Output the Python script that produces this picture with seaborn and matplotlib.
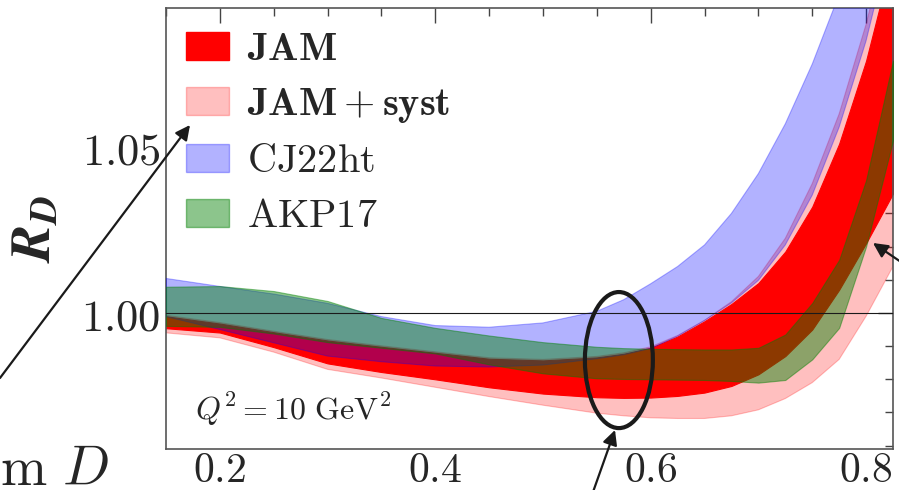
import numpy as np
import matplotlib
matplotlib.use("Agg")
import matplotlib.pyplot as plt
import seaborn as sns
from matplotlib.patches import Ellipse, Patch
from matplotlib.ticker import MultipleLocator, FuncFormatter

# ---------------- data ----------------
x = [0.15, 0.2, 0.25, 0.3, 0.35, 0.4, 0.45, 0.5, 0.55, 0.575, 0.6, 0.625, 0.65, 0.675,
     0.7, 0.725, 0.75, 0.775, 0.8, 0.825]

jam_lo = [0.9954, 0.9941, 0.9897, 0.9848, 0.9822, 0.9800, 0.9776, 0.9757, 0.9746, 0.9744,
          0.9745, 0.9750, 0.9760, 0.9780, 0.9815, 0.9870, 0.9950, 1.0070, 1.0210, 1.0360]
jam_hi = [0.9990, 0.9968, 0.9942, 0.9917, 0.9898, 0.9880, 0.9862, 0.9857, 0.9866, 0.9877,
          0.9895, 0.9929, 0.9975, 1.0027, 1.0090, 1.0185, 1.0320, 1.0510, 1.0760, 1.1080]

syst_lo = [0.9940, 0.9925, 0.9882, 0.9830, 0.9804, 0.9776, 0.9748, 0.9722, 0.9698, 0.9690,
           0.9684, 0.9682, 0.9682, 0.9690, 0.9708, 0.9742, 0.9790, 0.9860, 0.9990, 1.0140]
syst_hi = [0.9993, 0.9971, 0.9945, 0.9920, 0.9901, 0.9883, 0.9865, 0.9860, 0.9869, 0.9880,
           0.9898, 0.9932, 0.9978, 1.0034, 1.0110, 1.0225, 1.0390, 1.0600, 1.0870, 1.1200]

cj_lo = [0.9989, 0.9950, 0.9910, 0.9870, 0.9853, 0.9840, 0.9837, 0.9843, 0.9862, 0.9874,
         0.9893, 0.9930, 0.9977, 1.0030, 1.0098, 1.0205, 1.0355, 1.0560, 1.0820, 1.1150]
cj_hi = [1.0104, 1.0080, 1.0057, 1.0029, 0.9989, 0.9962, 0.9957, 0.9970, 1.0005, 1.0040,
         1.0088, 1.0140, 1.0205, 1.0300, 1.0420, 1.0570, 1.0750, 1.0960, 1.1180, 1.1400]

akp_lo = [0.9961, 0.9958, 0.9938, 0.9912, 0.9895, 0.9878, 0.9845, 0.9818, 0.9803, 0.9801,
          0.9800, 0.9799, 0.9798, 0.9795, 0.9790, 0.9798, 0.9860, 0.9955, 1.0200, 1.0520]
akp_hi = [1.0079, 1.0081, 1.0066, 1.0036, 0.9985, 0.9955, 0.9932, 0.9912, 0.9898, 0.9894,
          0.9892, 0.9891, 0.9890, 0.9890, 0.9895, 0.9935, 1.0030, 1.0160, 1.0400, 1.0760]

labels = [r'$\mathbf{JAM}$', r'$\mathbf{JAM+syst}$', r'$\mathrm{CJ22ht}$', r'$\mathrm{AKP17}$']

# ---------------- style ----------------
sns.set_theme(style="white")
plt.rcParams['mathtext.fontset'] = 'cm'
plt.rcParams['font.family'] = ['DejaVu Serif']

fig = plt.figure(figsize=(8.99, 4.90), dpi=100)
ax = fig.add_axes([166/899, 1-449/490, (893-166)/899, (449-8)/490])

# bands
ax.fill_between(x, syst_lo, syst_hi, color='red', alpha=0.25, lw=0.8, zorder=1)
ax.fill_between(x, jam_lo, jam_hi, color='red', alpha=1.0, lw=0.8, zorder=2)
ax.fill_between(x, cj_lo, cj_hi, color='blue', alpha=0.3, lw=0.8, zorder=3)
ax.fill_between(x, akp_lo, akp_hi, color='green', alpha=0.45, lw=0.8, zorder=4)
ax.axhline(1.0, color='k', lw=0.8, zorder=5)

ax.set_xlim(0.15, 0.825)
ax.set_ylim(0.959, 1.0919)

ax.xaxis.set_major_locator(MultipleLocator(0.2))
ax.xaxis.set_minor_locator(MultipleLocator(0.05))
ax.yaxis.set_major_locator(MultipleLocator(0.05))
ax.yaxis.set_minor_locator(MultipleLocator(0.01))
ax.xaxis.set_major_formatter(FuncFormatter(lambda v, p: r'$%.1f$' % v))
ax.yaxis.set_major_formatter(FuncFormatter(lambda v, p: r'$%.2f$' % v))
ax.tick_params(which='both', direction='in', top=True, right=True, color='#444444', width=1.0)
ax.tick_params(which='major', length=11, pad=4)
ax.tick_params(which='minor', length=6)
ax.tick_params(axis='y', which='major', labelsize=32)
ax.tick_params(axis='x', which='major', labelsize=30, pad=0)
for s in ax.spines.values():
    s.set_color('#555555')
    s.set_linewidth(1.2)

# legend
handles = [Patch(facecolor='red', edgecolor='red', alpha=1.0),
           Patch(facecolor='red', edgecolor='red', alpha=0.25),
           Patch(facecolor='blue', edgecolor='blue', alpha=0.3),
           Patch(facecolor='green', edgecolor='green', alpha=0.45)]
ax.legend(handles, labels, loc='upper left', bbox_to_anchor=(0.028, 0.948),
          frameon=False, fontsize=29, handlelength=1.05, handleheight=0.7,
          handletextpad=0.45, labelspacing=0.45, borderpad=0, borderaxespad=0)

ax.text(0.177, 0.9678, r'$Q^2 = 10\ \mathrm{GeV}^2$', fontsize=23, ha='left',
        va='baseline', zorder=6)

# y label (bold italic R_D)
ylab = fig.text(35/899, 1-229/490, r'$\mathbfit{R}_{\mathbfit{D}}$', rotation=90,
                fontsize=40, ha='center', va='center', math_fontfamily='stix')
try:
    fig.canvas.draw()
except Exception:
    ylab.remove()
    fig.text(30/899, 1-250/490, 'R', rotation=90, fontsize=40, fontweight='bold',
             fontstyle='italic', family='DejaVu Serif', ha='center', va='center')
    fig.text(50/899, 1-205/490, 'D', rotation=90, fontsize=26, fontweight='bold',
             fontstyle='italic', family='DejaVu Serif', ha='center', va='center')

# overlay annotations from the slide
ax.add_patch(Ellipse((0.5705, 0.9858), 0.0631, 0.041, fill=False, ec='k', lw=3,
                     zorder=10, clip_on=False))
arrow = dict(arrowstyle='-|>', lw=1.6, color='k', mutation_scale=22, shrinkA=0, shrinkB=0)
ax.annotate('', xy=(190, 490-125), xytext=(0, 490-378), xycoords='figure pixels',
            textcoords='figure pixels', arrowprops=arrow, annotation_clip=False)
ax.annotate('', xy=(615, 490-430), xytext=(593, -2), xycoords='figure pixels',
            textcoords='figure pixels', arrowprops=arrow, annotation_clip=False)
ax.annotate('', xy=(873, 490-243), xytext=(901, 490-262), xycoords='figure pixels',
            textcoords='figure pixels', arrowprops=arrow, annotation_clip=False)
fig.text(0/899, 5/490, r'$\mathrm{m}\ D$', fontsize=40, ha='left', va='baseline')

fig.savefig('out.png', dpi=100)
